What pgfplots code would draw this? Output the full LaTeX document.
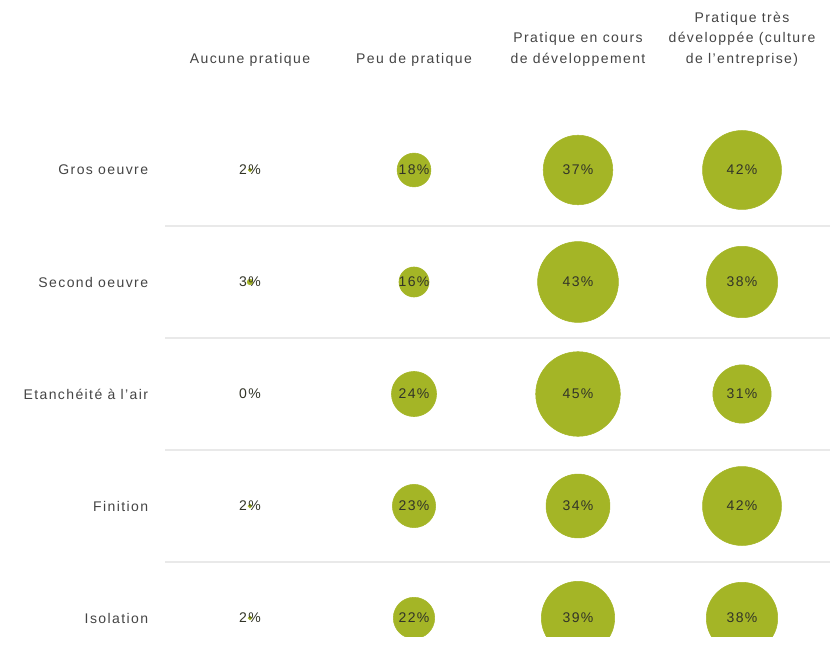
\documentclass[border=0pt]{standalone}
\usepackage{fontspec}
\setmainfont{Liberation Sans}[LetterSpace=10]
\usepackage{pgfplots}
\pgfplotsset{compat=1.18}
\definecolor{bub}{RGB}{164,181,38}
\definecolor{txt}{RGB}{68,68,68}
\definecolor{ptxt}{RGB}{50,52,40}
\definecolor{sep}{RGB}{233,233,233}
\pgfplotstableread{
x y v
0 0 2
1 0 18
2 0 37
3 0 42
0 -1 3
1 -1 16
2 -1 43
3 -1 38
0 -2 0
1 -2 24
2 -2 45
3 -2 31
0 -3 2
1 -3 23
2 -3 34
3 -3 42
0 -4 2
1 -4 22
2 -4 39
3 -4 38
}\bubbles
\begin{document}
\begin{tikzpicture}
\useasboundingbox (0,0) rectangle (627.75pt,488.25pt);
\begin{axis}[
  at={(123.75pt,11.25pt)}, anchor=south west,
  scale only axis, width=498.75pt, height=420.75pt,
  xmin=-0.5183, xmax=3.5366, ymin=-4.1607, ymax=0.8482,
  axis line style={draw=none},
  xtick={0,1,2,3},
  xticklabels={Aucune pratique, Peu de pratique, {Pratique en cours\\de développement}, {Pratique très\\développée (culture\\de l'entreprise)}},
  xticklabel pos=upper,
  xticklabel style={anchor=south, align=center, inner sep=0pt, yshift=6.5pt, text=txt, font=\fontsize{10.5}{15.4}\selectfont},
  ytick={0,-1,-2,-3,-4},
  yticklabels={Gros oeuvre, Second oeuvre, Etanchéité à l'air, Finition, Isolation},
  yticklabel style={anchor=east, inner sep=0pt, xshift=-12.5pt, text=txt, font=\fontsize{10.5}{12}\selectfont},
  major tick length=0pt, minor tick length=0pt,
  minor ytick={-0.5,-1.5,-2.5,-3.5},
  yminorgrids, minor grid style={draw=sep, line width=1.5pt},
  clip marker paths=true,
]
\addplot[only marks, mark=*, draw=bub, fill=bub,
  scatter, scatter src=explicit,
  visualization depends on={\thisrow{v} \as \perc},
  scatter/@pre marker code/.code={%
    \pgfmathsetmacro\rad{0.705*\perc}%
    \scope[mark size=\rad pt, draw=bub, fill=bub]},
  scatter/@post marker code/.code={\endscope},
] table[x=x, y=y, meta=v] {\bubbles};
\addplot[only marks, mark=none,
  point meta=explicit symbolic,
  nodes near coords={\pgfplotspointmeta\%},
  nodes near coords align=center,
  every node near coord/.append style={anchor=center, text=ptxt, font=\fontsize{10.5}{12}\selectfont},
] table[x=x, y=y, meta=v] {\bubbles};
\end{axis}
\end{tikzpicture}
\end{document}
